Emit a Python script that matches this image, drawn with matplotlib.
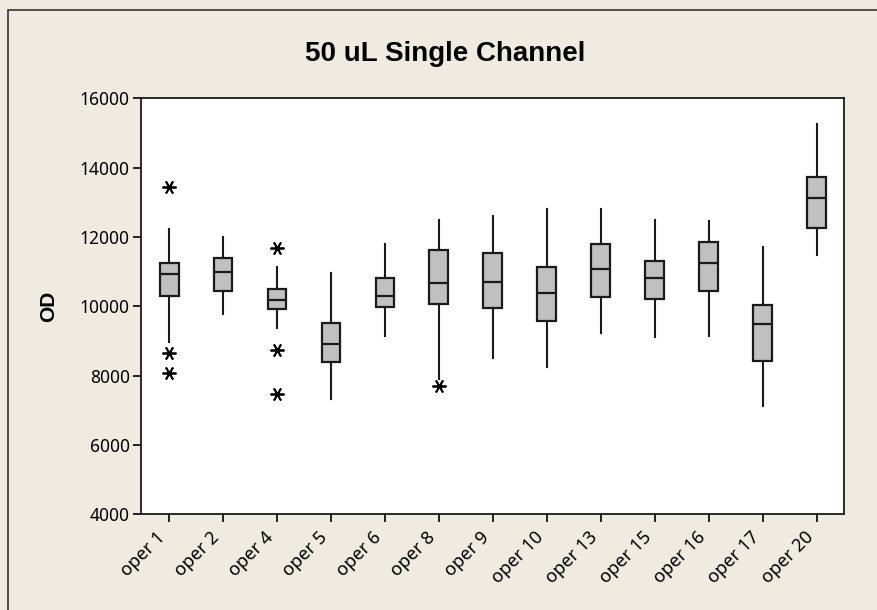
import matplotlib
matplotlib.use('Agg')
import matplotlib.pyplot as plt
from matplotlib.patches import Rectangle

# operators and box statistics
operators = ['oper 1', 'oper 2', 'oper 4', 'oper 5', 'oper 6', 'oper 8', 'oper 9',
             'oper 10', 'oper 13', 'oper 15', 'oper 16', 'oper 17', 'oper 20']
whisker_low = [8970, 9785, 9385, 7335, 9150, 7900, 8520, 8245, 9240, 9105, 9150, 7115, 11480]
q1 = [10305, 10440, 9930, 8400, 9990, 10065, 9940, 9575, 10265, 10215, 10440, 8435, 12255]
median = [10940, 10985, 10180, 8915, 10305, 10670, 10715, 10390, 11080, 10810, 11255, 9490, 13130]
q3 = [11255, 11395, 10495, 9530, 10810, 11615, 11530, 11120, 11800, 11310, 11845, 10030, 13720]
whisker_high = [12230, 12000, 11135, 10950, 11810, 12500, 12595, 12815, 12815, 12500, 12450, 11720, 15250]
outliers = [[13450, 8665, 8070], [], [11695, 8745, 7470], [], [], [7690],
            [], [], [], [], [], [], []]

bg = '#EFEBE1'
plt.rcParams['font.family'] = ['Noto Sans', 'DejaVu Sans']

fig = plt.figure(figsize=(8.77, 6.10), dpi=100, facecolor=bg)
fig.patches.append(Rectangle((8 / 877, -0.05), 1.0, 1 - 10 / 610 + 0.05,
                             transform=fig.transFigure, fill=False,
                             edgecolor='#333333', linewidth=1.2))

ax = fig.add_axes([141 / 877, 1 - 514.3 / 610, (844.3 - 141) / 877, (514.3 - 98.3) / 610])
ax.set_facecolor('white')

stats = []
for i in range(len(operators)):
    stats.append({'label': operators[i], 'whislo': whisker_low[i], 'q1': q1[i],
                  'med': median[i], 'q3': q3[i], 'whishi': whisker_high[i],
                  'fliers': outliers[i]})

ax.bxp(stats, positions=range(1, len(operators) + 1), widths=0.35,
       patch_artist=True, showcaps=False,
       boxprops=dict(facecolor='#C0C0C0', edgecolor='#1a1a1a', linewidth=1.6),
       medianprops=dict(color='#1a1a1a', linewidth=1.6),
       whiskerprops=dict(color='#1a1a1a', linewidth=1.5),
       flierprops=dict(marker=(6, 2, 90), markersize=10, markeredgecolor='black',
                       markeredgewidth=1.3, linestyle='none'))

ax.set_xlim(0.48, 13.51)
ax.set_ylim(4000, 16000)
ax.set_yticks([4000, 6000, 8000, 10000, 12000, 14000, 16000])
ax.set_xticks(range(1, len(operators) + 1))
ax.set_xticklabels(operators, rotation=45, ha='right', fontsize=13)
ax.tick_params(axis='both', direction='out', length=6, width=1.2, colors='black')
ax.tick_params(axis='y', labelsize=12.5, pad=2)
ax.tick_params(axis='x', pad=4)
for s in ax.spines.values():
    s.set_linewidth(1.3)
    s.set_color('#1a1a1a')

ax.set_ylabel('OD', fontsize=15, fontweight='bold', family='Liberation Sans', labelpad=16)
fig.text(445 / 877, 1 - 54 / 610, '50 uL Single Channel', ha='center', va='center',
         fontsize=20, fontweight='bold', family='Liberation Sans')

fig.savefig('out.png', dpi=100, facecolor=bg)
